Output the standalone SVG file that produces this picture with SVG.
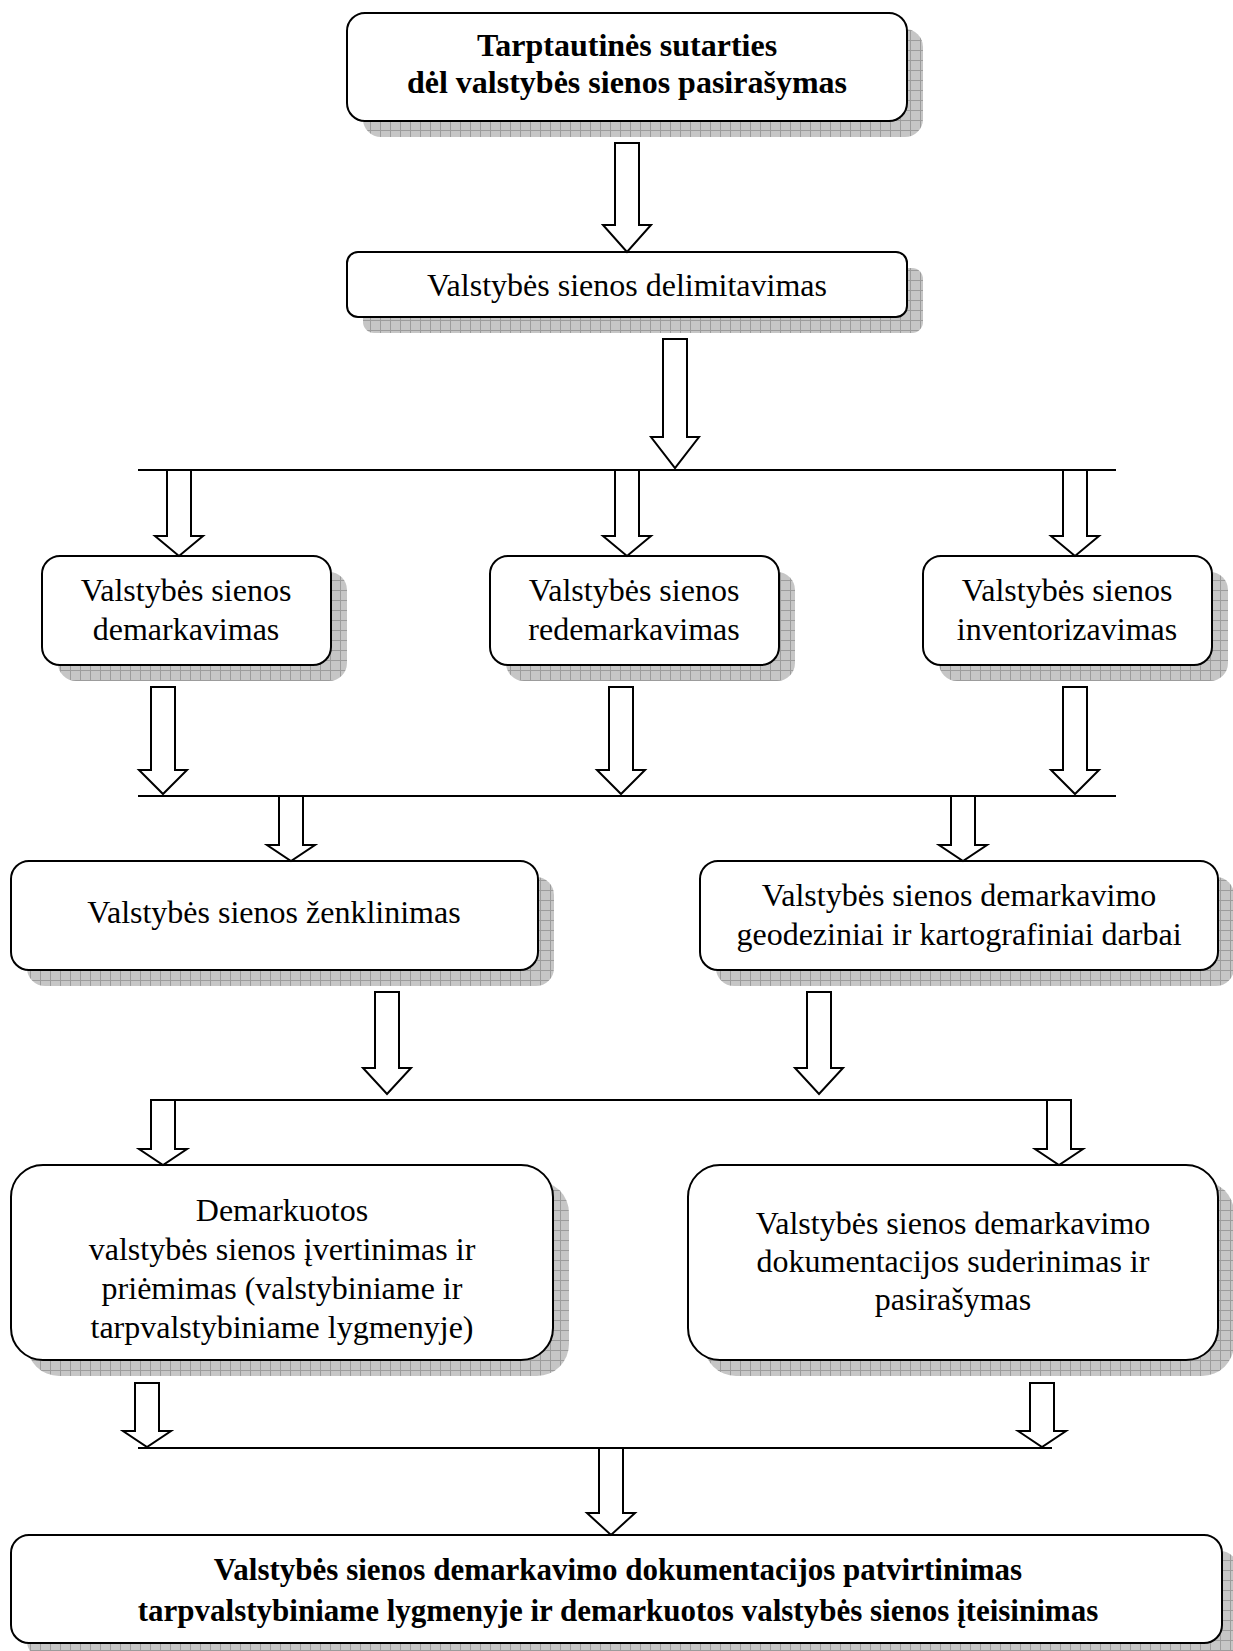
<svg xmlns="http://www.w3.org/2000/svg" width="1233" height="1651" viewBox="0 0 1233 1651">
<defs>
<pattern id="hatch" width="10" height="10" patternUnits="userSpaceOnUse">
<rect width="10" height="10" fill="#c6c6c6"/>
<path d="M0 0.5H10M0.5 0V10" stroke="#9c9c9c" stroke-width="1"/>
</pattern>
<style>
.shadow{fill:url(#hatch);stroke:none}
.box{fill:#fff;stroke:#000;stroke-width:2}
.arrow{fill:#fff;stroke:#000;stroke-width:2;stroke-linejoin:miter}
.line{stroke:#000;stroke-width:2.2;fill:none}
text{font-family:"Liberation Serif","Times New Roman",serif;font-size:32px;fill:#000;text-anchor:middle}
.b{font-weight:bold;font-size:32px}
.bf{font-weight:bold;font-size:31px}
</style>
</defs>
<rect width="1233" height="1651" fill="#fff"/>

<g id="n1">
<rect class="shadow" x="363" y="29" width="560" height="108" rx="18"/>
<rect class="box" x="347" y="13" width="560" height="108" rx="18"/>
<text class="b" x="627" y="56">Tarptautinės sutarties</text>
<text class="b" x="627" y="93">dėl valstybės sienos pasirašymas</text>
</g>

<g id="n2">
<rect class="shadow" x="363" y="268" width="560" height="65" rx="11"/>
<rect class="box" x="347" y="252" width="560" height="65" rx="11"/>
<text x="627" y="296">Valstybės sienos delimitavimas</text>
</g>

<g id="n3">
<rect class="shadow" x="58" y="572" width="289" height="109" rx="18"/>
<rect class="box" x="42" y="556" width="289" height="109" rx="18"/>
<text x="186" y="601">Valstybės sienos</text>
<text x="186" y="640">demarkavimas</text>
</g>

<g id="n4">
<rect class="shadow" x="506" y="572" width="289" height="109" rx="18"/>
<rect class="box" x="490" y="556" width="289" height="109" rx="18"/>
<text x="634" y="601">Valstybės sienos</text>
<text x="634" y="640">redemarkavimas</text>
</g>

<g id="n5">
<rect class="shadow" x="939" y="572" width="289" height="109" rx="18"/>
<rect class="box" x="923" y="556" width="289" height="109" rx="18"/>
<text x="1067" y="601">Valstybės sienos</text>
<text x="1067" y="640">inventorizavimas</text>
</g>

<g id="n6">
<rect class="shadow" x="27" y="877" width="527" height="109" rx="18"/>
<rect class="box" x="11" y="861" width="527" height="109" rx="18"/>
<text x="274" y="923">Valstybės sienos ženklinimas</text>
</g>

<g id="n7">
<rect class="shadow" x="716" y="877" width="518" height="109" rx="18"/>
<rect class="box" x="700" y="861" width="518" height="109" rx="18"/>
<text x="959" y="906">Valstybės sienos demarkavimo</text>
<text x="959" y="945">geodeziniai ir kartografiniai darbai</text>
</g>

<g id="n8">
<rect class="shadow" x="27" y="1181" width="542" height="195" rx="32"/>
<rect class="box" x="11" y="1165" width="542" height="195" rx="32"/>
<text x="282" y="1221">Demarkuotos</text>
<text x="282" y="1260">valstybės sienos įvertinimas ir</text>
<text x="282" y="1299">priėmimas (valstybiniame ir</text>
<text x="282" y="1338">tarpvalstybiniame lygmenyje)</text>
</g>

<g id="n9">
<rect class="shadow" x="704" y="1181" width="530" height="195" rx="32"/>
<rect class="box" x="688" y="1165" width="530" height="195" rx="32"/>
<text x="953" y="1234">Valstybės sienos demarkavimo</text>
<text x="953" y="1272">dokumentacijos suderinimas ir</text>
<text x="953" y="1310">pasirašymas</text>
</g>

<g id="n10">
<rect class="shadow" x="27" y="1551" width="1211" height="108" rx="18"/>
<rect class="box" x="11" y="1535" width="1211" height="108" rx="18"/>
<text class="bf" x="618" y="1580">Valstybės sienos demarkavimo dokumentacijos patvirtinimas</text>
<text class="bf" x="618" y="1621">tarpvalstybiniame lygmenyje ir demarkuotos valstybės sienos įteisinimas</text>
</g>

<g id="connectors">
<line class="line" x1="138" y1="470" x2="1116" y2="470"/>
<line class="line" x1="138" y1="796" x2="1116" y2="796"/>
<line class="line" x1="151" y1="1100" x2="1071" y2="1100"/>
<line class="line" x1="138" y1="1448" x2="1052" y2="1448"/>

<path class="arrow" d="M615 143V225H603L627 252L651 225H639V143Z"/>
<path class="arrow" d="M663 339V437H651L675 468L699 437H687V339Z"/>

<path class="arrow" d="M167 470V536H155L179 556L203 536H191V470Z"/>
<path class="arrow" d="M615 470V536H603L627 556L651 536H639V470Z"/>
<path class="arrow" d="M1063 470V536H1051L1075 556L1099 536H1087V470Z"/>

<path class="arrow" d="M151 687V770H139L163 794L187 770H175V687Z"/>
<path class="arrow" d="M609 687V770H597L621 794L645 770H633V687Z"/>
<path class="arrow" d="M1063 687V770H1051L1075 794L1099 770H1087V687Z"/>

<path class="arrow" d="M279 796V845H267L291 861L315 845H303V796Z"/>
<path class="arrow" d="M951 796V845H939L963 861L987 845H975V796Z"/>

<path class="arrow" d="M375 992V1068H363L387 1094L411 1068H399V992Z"/>
<path class="arrow" d="M807 992V1068H795L819 1094L843 1068H831V992Z"/>

<path class="arrow" d="M151 1100V1149H139L163 1165L187 1149H175V1100Z"/>
<path class="arrow" d="M1047 1100V1149H1035L1059 1165L1083 1149H1071V1100Z"/>

<path class="arrow" d="M135 1383V1431H123L147 1447L171 1431H159V1383Z"/>
<path class="arrow" d="M1030 1383V1431H1018L1042 1447L1066 1431H1054V1383Z"/>

<path class="arrow" d="M599 1448V1513H587L611 1535L635 1513H623V1448Z"/>
</g>
</svg>
